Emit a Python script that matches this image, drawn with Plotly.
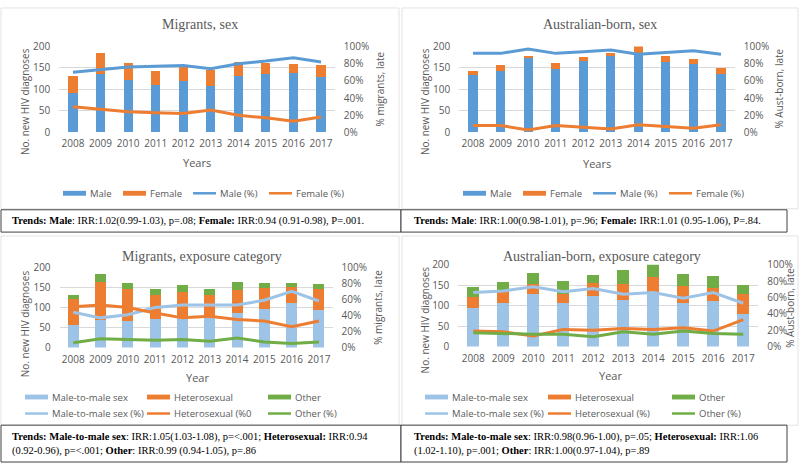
import plotly.graph_objects as go

W, H = 800, 470

years = [2008, 2009, 2010, 2011, 2012, 2013, 2014, 2015, 2016, 2017]

# Panel 1: Migrants, sex
mig_male = [92, 135, 122, 111, 120, 107, 131, 135, 138, 130]
mig_female = [39, 49, 40, 33, 33, 39, 33, 27, 21, 27]
mig_male_pct = [70, 73, 76, 77, 78, 74, 80, 83, 87, 82]
mig_female_pct = [30, 27, 24, 23, 22, 26, 20, 17, 13, 18]

# Panel 2: Australian-born, sex
aus_male = [134, 144, 174, 148, 166, 178, 186, 164, 160, 135]
aus_female = [10, 12, 4, 14, 10, 8, 14, 13, 10, 15]
aus_male_pct = [92, 92, 97, 92, 94, 96, 91, 93, 95, 91]
aus_female_pct = [8, 8, 3, 8, 6, 4, 9, 7, 5, 9]

# Panel 3: Migrants, exposure category
mig_msm = [56, 68, 65, 71, 76, 73, 85, 95, 111, 94]
mig_het = [66, 96, 82, 59, 62, 58, 58, 54, 41, 53]
mig_oth = [9, 20, 14, 15, 17, 14, 20, 13, 8, 12]
mig_msm_pct = [44, 37, 41, 50, 53, 53, 53, 59, 70, 58]
mig_het_pct = [51, 53, 50, 43, 37, 39, 35, 33, 26, 33]
mig_oth_pct = [6, 11, 10, 9, 10, 8, 12, 7, 5, 7]

# Panel 4: Australian-born, exposure category
aus_msm = [94, 107, 129, 107, 123, 114, 133, 106, 111, 79]
aus_het = [28, 26, 23, 21, 32, 40, 38, 41, 33, 49]
aus_oth = [24, 25, 27, 33, 21, 33, 30, 31, 28, 23]
aus_msm_pct = [66, 68, 73, 67, 71, 64, 66, 59, 66, 53]
aus_het_pct = [19, 18, 13, 21, 20, 22, 21, 23, 19, 33]
aus_oth_pct = [17, 16, 15, 15, 12, 18, 15, 19, 16, 15]

titles = ["Migrants, sex", "Australian-born, sex",
          "Migrants, exposure category", "Australian-born, exposure category"]
right_titles = ["% migrants, late", "% Aust-born, late", "% migrants, late", "% Aust-born, late"]
x_titles = ["Years", "Years", "Year", "Year"]
left_title = "No. new HIV diagnoses"
sex_legend = ["Male", "Female", "Male (%)", "Female (%)"]
exp_legend_left = ["Male-to-male sex", "Heterosexual", "Other",
                   "Male-to-male sex (%)", "Heterosexual (%0", "Other (%)"]
exp_legend_right = ["Male-to-male sex", "Heterosexual", "Other",
                    "Male-to-male sex (%)", "Heterosexual (%)", "Other (%)"]
trends = [
    "<b>Trends: Male</b>: IRR:1.02(0.99-1.03), p=.08; <b>Female:</b> IRR:0.94 (0.91-0.98), P=.001.",
    "<b>Trends: Male</b>: IRR:1.00(0.98-1.01), p=.96; <b>Female:</b> IRR:1.01 (0.95-1.06), P=.84.",
    "<b>Trends: Male-to-male sex</b>: IRR:1.05(1.03-1.08), p=<.001; <b>Heterosexual:</b> IRR:0.94<br>(0.92-0.96), p=<.001; <b>Other</b>: IRR:0.99 (0.94-1.05), p=.86",
    "<b>Trends: Male-to-male sex</b>: IRR:0.98(0.96-1.00), p=.05; <b>Heterosexual:</b> IRR:1.06<br>(1.02-1.10), p=.001; <b>Other</b>: IRR:1.00(0.97-1.04), p=.89",
]

BLUE = "#5B9BD5"
ORANGE = "#ED7D31"
LBLUE = "#9DC3E6"
GREEN = "#70AD47"
GRAY = "#595959"
GRID = "#D9D9D9"
SANS = "Open Sans"
SERIF = "Liberation Serif"


def px(x):
    return x / W


def py(y):
    return 1 - y / H


# panel geometry in pixels: plot left, right, top(200 line), bottom(0 line)
geo = [
    (59.2, 334.8, 40.7, 129.3),
    (459.2, 734.8, 40.7, 129.3),
    (59.6, 332.6, 268.3, 351.0),
    (458.3, 758.3, 265.7, 350.0),
]
bar_w = [0.33, 0.33, 0.4, 0.4]

fig = go.Figure()
layout = {}
for i, (l, r, t, b) in enumerate(geo):
    n = i + 1
    xa = "xaxis" if n == 1 else f"xaxis{n}"
    ya = "yaxis" if n == 1 else f"yaxis{n}"
    yr = f"yaxis{n + 4}"
    layout[xa] = dict(domain=[px(l), px(r)], range=[2007.5, 2017.5], anchor=f"y{'' if n == 1 else n}",
                      tickvals=years, showgrid=False, zeroline=False, showline=False,
                      ticks="", ticklen=0, ticklabelstandoff=4,
                      tickfont=dict(family=SANS, size=10, color=GRAY))
    layout[ya] = dict(domain=[py(b), py(t)], range=[0, 200], dtick=50, anchor=f"x{'' if n == 1 else n}",
                      showgrid=True, gridcolor=GRID, gridwidth=1, zeroline=False, showline=False,
                      ticks="", ticklen=0, ticklabelstandoff=8,
                      tickfont=dict(family=SANS, size=10, color=GRAY))
    layout[yr] = dict(domain=[py(b), py(t)], range=[0, 100], dtick=20, ticksuffix="%",
                      overlaying=f"y{'' if n == 1 else n}", side="right", anchor=f"x{'' if n == 1 else n}",
                      showgrid=False, zeroline=False, showline=False, ticks="", ticklen=0,
                      ticklabelstandoff=8,
                      tickfont=dict(family=SANS, size=10, color=GRAY))


def add_bar(n, y, color):
    fig.add_trace(go.Bar(x=years, y=y, marker=dict(color=color, line=dict(width=0)),
                         width=bar_w[n - 1], showlegend=False, hoverinfo="skip",
                         xaxis=f"x{'' if n == 1 else n}", yaxis=f"y{'' if n == 1 else n}"))


def add_line(n, y, color):
    fig.add_trace(go.Scatter(x=years, y=y, mode="lines", line=dict(color=color, width=3),
                             showlegend=False, hoverinfo="skip",
                             xaxis=f"x{'' if n == 1 else n}", yaxis=f"y{n + 4}"))


add_bar(1, mig_male, BLUE)
add_bar(1, mig_female, ORANGE)
add_line(1, mig_male_pct, BLUE)
add_line(1, mig_female_pct, ORANGE)

add_bar(2, aus_male, BLUE)
add_bar(2, aus_female, ORANGE)
add_line(2, aus_male_pct, BLUE)
add_line(2, aus_female_pct, ORANGE)

add_bar(3, mig_msm, LBLUE)
add_bar(3, mig_het, ORANGE)
add_bar(3, mig_oth, GREEN)
add_line(3, mig_msm_pct, LBLUE)
add_line(3, mig_het_pct, ORANGE)
add_line(3, mig_oth_pct, GREEN)

add_bar(4, aus_msm, LBLUE)
add_bar(4, aus_het, ORANGE)
add_bar(4, aus_oth, GREEN)
add_line(4, aus_msm_pct, LBLUE)
add_line(4, aus_het_pct, ORANGE)
add_line(4, aus_oth_pct, GREEN)

ann = []
shapes = []

# chart frames (light)
for (x0, y0, x1, y1) in [(1, 1, 399, 208), (402, 1, 798, 208), (1, 236, 399, 431), (402, 236, 798, 431)]:
    shapes.append(dict(type="rect", xref="paper", yref="paper", x0=px(x0), x1=px(x1), y0=py(y1), y1=py(y0),
                       line=dict(color="#E3E3E3", width=1), fillcolor="rgba(0,0,0,0)", layer="below"))
# trends boxes (dark)
for (x0, y0, x1, y1) in [(1, 209, 401, 232), (401, 209, 787, 232), (1, 431, 401, 469), (401, 431, 787, 469)]:
    shapes.append(dict(type="rect", xref="paper", yref="paper", x0=px(x0), x1=px(x1), y0=py(y1), y1=py(y0),
                       line=dict(color="#404040", width=1), fillcolor="white"))


def text(x, y, s, size=10, color=GRAY, family=SANS, angle=0, xanchor="center", align="center"):
    ann.append(dict(xref="paper", yref="paper", x=px(x), y=py(y), text=s, showarrow=False,
                    textangle=angle, xanchor=xanchor, yanchor="middle", align=align,
                    font=dict(family=family, size=size, color=color)))


# titles
text(200, 18, titles[0], size=14, family=SERIF)
text(600, 18, titles[1], size=14, family=SERIF)
text(202, 257, titles[2], size=14, family=SERIF)
text(602, 257, titles[3], size=14, family=SERIF)

# axis titles
text(25, 98, left_title, angle=-90)
text(425, 98, left_title, angle=-90)
text(25, 327, left_title, angle=-90)
text(425, 323, left_title, angle=-90)
text(380, 85, right_titles[0], angle=-90)
text(779, 84, right_titles[1], angle=-90)
text(378, 310, right_titles[2], angle=-90)
text(790, 310, right_titles[3], angle=-90)
text(197, 160, x_titles[0], size=11)
text(597, 161, x_titles[1], size=11)
text(197, 382, x_titles[2], size=11)
text(610, 380, x_titles[3], size=11)


def legend_item(x0, y, label, color, kind):
    if kind == "bar":
        shapes.append(dict(type="rect", xref="paper", yref="paper", x0=px(x0), x1=px(x0 + 23),
                           y0=py(y + 2.5), y1=py(y - 2.5), line=dict(width=0), fillcolor=color))
    else:
        shapes.append(dict(type="line", xref="paper", yref="paper", x0=px(x0), x1=px(x0 + 23),
                           y0=py(y), y1=py(y), line=dict(color=color, width=2.5)))
    text(x0 + 25, y, label, size=9.5, xanchor="left", align="left")


# sex legends
for off in (0, 400):
    kinds = ["bar", "bar", "line", "line"]
    cols = [BLUE, ORANGE, BLUE, ORANGE]
    xs = [63, 123, 193, 269]
    for k in range(4):
        legend_item(xs[k] + off, 192, sex_legend[k], cols[k], kinds[k])

# exposure legends
exp_cols = [LBLUE, ORANGE, GREEN]
for off, labels, xs in ((0, exp_legend_left, [25, 147, 268]), (400, exp_legend_right, [25, 148, 272])):
    for k in range(3):
        legend_item(xs[k] + off, 402, labels[k], exp_cols[k], "bar")
        legend_item(xs[k] + off, 419, labels[k + 3], exp_cols[k], "line")

# trends text
text(10, 221, trends[0], size=10.5, color="black", family=SERIF, xanchor="left", align="left")
text(412, 221, trends[1], size=10.5, color="black", family=SERIF, xanchor="left", align="left")
text(10, 450, trends[2], size=10.5, color="black", family=SERIF, xanchor="left", align="left")
text(412, 450, trends[3], size=10.5, color="black", family=SERIF, xanchor="left", align="left")

fig.update_layout(width=W, height=H, autosize=False, margin=dict(l=0, r=0, t=0, b=0),
                  paper_bgcolor="white", plot_bgcolor="white", barmode="stack",
                  hovermode=False,
                  annotations=ann, shapes=shapes, showlegend=False, **layout)

post = ("document.body.style.margin='0px';document.body.style.padding='0px';"
        "document.documentElement.style.overflow='hidden';"
        "var gd=document.getElementById('{plot_id}');"
        "gd.style.position='absolute';gd.style.left='0px';gd.style.top='0px';"
        "Plotly.relayout(gd,{width:800,height:470});")

fig.write_html("out.html", config={"displayModeBar": False, "responsive": False},
               post_script=post)
